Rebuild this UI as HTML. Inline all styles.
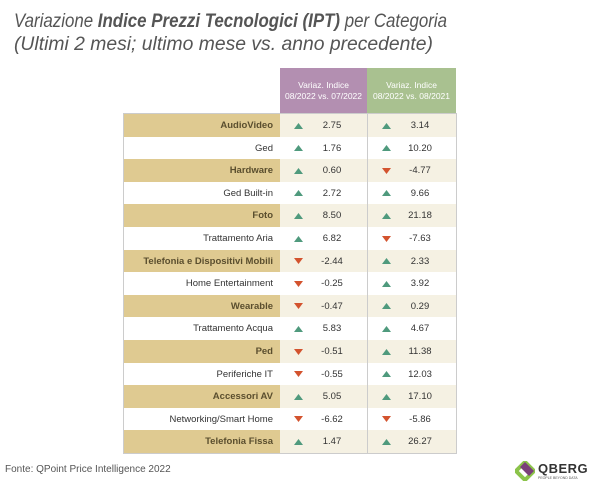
<!DOCTYPE html>
<html><head><meta charset="utf-8"><style>
body{margin:0;width:600px;height:495px;background:#fff;position:relative;overflow:hidden;font-family:"Liberation Sans",sans-serif}
.a{position:absolute}
.row{position:absolute;left:124px;width:332px;height:22.5px;font-size:9.5px;color:#333}
.lab{position:absolute;left:0;width:149px;text-align:right;top:0;height:100%;line-height:23px;padding-right:7px}
.c{position:absolute;top:0;height:100%;line-height:23px}
.hd{position:absolute;top:68px;height:46px;color:#fff;font-size:8.5px;text-align:center;line-height:11px;box-sizing:border-box;padding-top:12px}
</style></head><body>
<svg class="a" style="left:0;top:0" width="600" height="60">
<text x="14" y="27" font-size="19" font-style="italic" fill="#555" textLength="433" lengthAdjust="spacingAndGlyphs" font-family="Liberation Sans">Variazione <tspan font-weight="bold">Indice Prezzi Tecnologici (IPT)</tspan> per Categoria</text>
<text x="14" y="50" font-size="19" font-style="italic" fill="#555" textLength="419" lengthAdjust="spacingAndGlyphs" font-family="Liberation Sans">(Ultimi 2 mesi; ultimo mese vs. anno precedente)</text>
</svg>
<div class="hd" style="left:280px;width:87px;background:#b38fb1">Variaz. Indice<br>08/2022 vs. 07/2022</div>
<div class="hd" style="left:367px;width:89px;background:#a9c190">Variaz. Indice<br>08/2022 vs. 08/2021</div>
<div id="tbl"></div>
<div class="a" style="left:124px;top:114px;width:332px;height:339px;box-shadow:0 0 0 1px #ccc;pointer-events:none"></div>
<div class="a" style="left:367px;top:114px;width:1px;height:339px;background:#ccc"></div>
<div class="a" style="left:5px;top:464px;font-size:10px;color:#555">Fonte: QPoint Price Intelligence 2022</div>
<div class="a" style="left:515px;top:461px;width:80px;height:22px">
<svg width="20" height="20" style="position:absolute;left:0;top:0"><polygon points="10,1 19,10 10,19 1,10" fill="none" stroke="#8bc34a" stroke-width="4"/><polygon points="10,1 19,10 14,15 5,6" fill="#7b3f7a"/></svg>
<div style="position:absolute;left:23px;top:0;font-size:13px;font-weight:bold;color:#333;letter-spacing:0.5px">QBERG</div>
<div style="position:absolute;left:23px;top:15px;font-size:3.5px;color:#555">PEOPLE BEYOND DATA</div>
</div>
<script>
const categories=["AudioVideo","Ged","Hardware","Ged Built-in","Foto","Trattamento Aria","Telefonia e Dispositivi Mobili","Home Entertainment","Wearable","Trattamento Acqua","Ped","Periferiche IT","Accessori AV","Networking/Smart Home","Telefonia Fissa"];
const monthChange=[2.75,1.76,0.60,2.72,8.50,6.82,-2.44,-0.25,-0.47,5.83,-0.51,-0.55,5.05,-6.62,1.47];
const yearChange=[3.14,10.20,-4.77,9.66,21.18,-7.63,2.33,3.92,0.29,4.67,11.38,12.03,17.10,-5.86,26.27];
const tbl=document.getElementById('tbl');
function tri(v,x){
  const up=v>=0;
  return '<svg class="c" style="left:'+x+'px;top:7.5px;height:8px" width="9" height="8"><polygon points="'+(up?'0,7 4.5,1 9,7':'0,1 4.5,7 9,1')+'" fill="'+(up?'#4f9a7d':'#d3532e')+'"/></svg>';
}
categories.forEach((cat,i)=>{
  const r=document.createElement('div');
  
  
  r.className='row';
  r.style.top=(114+i*22.6)+'px';
  const odd=i%2===0;
  r.innerHTML='<div class="lab" style="background:'+(odd?'#dfca91':'#fff')+';font-weight:'+(odd?'bold':'normal')+';color:'+(odd?'#5a4e2e':'#333')+'">'+cat+'</div>'+
   '<div class="c" style="left:156px;width:176px;background:'+(odd?'#f5f1e3':'#fff')+'"></div>'+
   tri(monthChange[i],170)+'<div class="c" style="left:190px;width:36px;text-align:center">'+monthChange[i].toFixed(2)+'</div>'+
   tri(yearChange[i],258)+'<div class="c" style="left:278px;width:36px;text-align:center">'+yearChange[i].toFixed(2)+'</div>';
  tbl.appendChild(r);
});
</script>
</body></html>
